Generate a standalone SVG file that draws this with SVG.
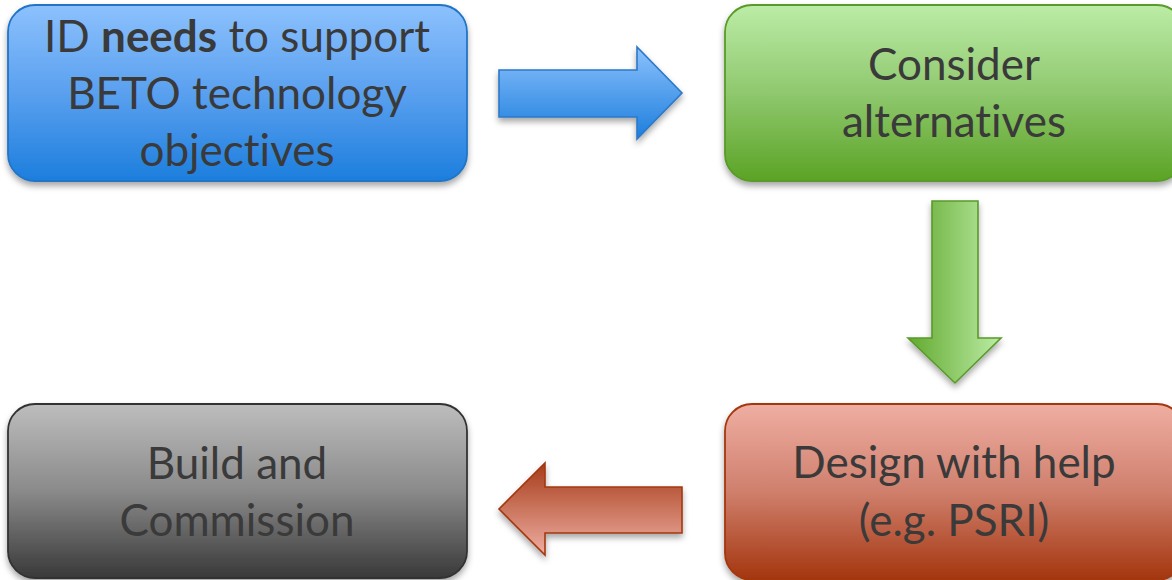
<svg xmlns="http://www.w3.org/2000/svg" width="1172" height="580" viewBox="0 0 1172 580">
<style>
  .lbl{font-family:Lato,"Open Sans","Liberation Sans",sans-serif;font-size:44px;fill:#3a3a3a;text-anchor:middle;font-variant-ligatures:none;font-feature-settings:"liga" 0}
  .b{font-weight:bold}
  .box{stroke-width:1.8}
  .arr{stroke-width:1.6}
</style>
<defs>
  <filter id="sh" x="-10%" y="-10%" width="120%" height="130%">
    <feDropShadow dx="0" dy="4" stdDeviation="3" flood-color="#000" flood-opacity="0.35"/>
  </filter>
  <linearGradient id="gBlue" x1="0" y1="0" x2="0" y2="1">
    <stop offset="0" stop-color="#8cc1fd"/><stop offset="0.5" stop-color="#5aa0ef"/><stop offset="1" stop-color="#1c7edd"/>
  </linearGradient>
  <linearGradient id="gGreen" x1="0" y1="0" x2="0" y2="1">
    <stop offset="0" stop-color="#bceca6"/><stop offset="0.5" stop-color="#8fc86e"/><stop offset="1" stop-color="#5ba325"/>
  </linearGradient>
  <linearGradient id="gRed" x1="0" y1="0" x2="0" y2="1">
    <stop offset="0" stop-color="#efaea2"/><stop offset="0.5" stop-color="#cf7f6c"/><stop offset="1" stop-color="#a3350e"/>
  </linearGradient>
  <linearGradient id="gGrey" x1="0" y1="0" x2="0" y2="1">
    <stop offset="0" stop-color="#bdbdbd"/><stop offset="0.5" stop-color="#8a8a8a"/><stop offset="1" stop-color="#393939"/>
  </linearGradient>
  <linearGradient id="aBlue" x1="0" y1="0" x2="0" y2="1">
    <stop offset="0" stop-color="#8cc1fd"/><stop offset="1" stop-color="#1c7edd"/>
  </linearGradient>
  <linearGradient id="aGreen" x1="0" y1="0" x2="1" y2="0">
    <stop offset="0" stop-color="#62a92f"/><stop offset="1" stop-color="#bceca6"/>
  </linearGradient>
  <linearGradient id="aRed" x1="0" y1="0" x2="0" y2="1">
    <stop offset="0" stop-color="#a63c1a"/><stop offset="1" stop-color="#efaea2"/>
  </linearGradient>
</defs>

<g id="connectors">
  <path id="arrow-right" class="arr" filter="url(#sh)" fill="url(#aBlue)" stroke="#2b78c8" d="M499,70 H637 V47 L682,93 L637,139 V117 H499 Z"/>
  <path id="arrow-down" class="arr" filter="url(#sh)" fill="url(#aGreen)" stroke="#5a9a2a" d="M932,201 H978 V338 H1001 L955,383 L908,338 H932 Z"/>
  <path id="arrow-left" class="arr" filter="url(#sh)" fill="url(#aRed)" stroke="#a3380f" d="M682,487 H545 V463 L499,509 L545,555 V533 H682 Z"/>
</g>

<g id="node-needs">
  <rect class="box" filter="url(#sh)" x="8" y="5" width="459" height="176" rx="27" fill="url(#gBlue)" stroke="#2274c6"/>
  <text class="lbl" x="237" y="52">ID <tspan class="b">needs</tspan> to support</text>
  <text class="lbl" x="237" y="109">BETO technology</text>
  <text class="lbl" x="237" y="166">objectives</text>
</g>

<g id="node-consider">
  <rect class="box" filter="url(#sh)" x="725" y="5" width="459" height="176" rx="27" fill="url(#gGreen)" stroke="#5a9a2a"/>
  <text class="lbl" x="954" y="80">Consider</text>
  <text class="lbl" x="954" y="137">alternatives</text>
</g>

<g id="node-design">
  <rect class="box" filter="url(#sh)" x="725" y="404" width="459" height="176" rx="27" fill="url(#gRed)" stroke="#a3380f"/>
  <text class="lbl" x="954" y="478">Design with help</text>
  <text class="lbl" x="954" y="536">(e.g. PSRI)</text>
</g>

<g id="node-build">
  <rect class="box" filter="url(#sh)" x="8" y="404" width="459" height="174" rx="27" fill="url(#gGrey)" stroke="#333"/>
  <text class="lbl" x="237" y="479">Build and</text>
  <text class="lbl" x="237" y="536">Commission</text>
</g>
</svg>
